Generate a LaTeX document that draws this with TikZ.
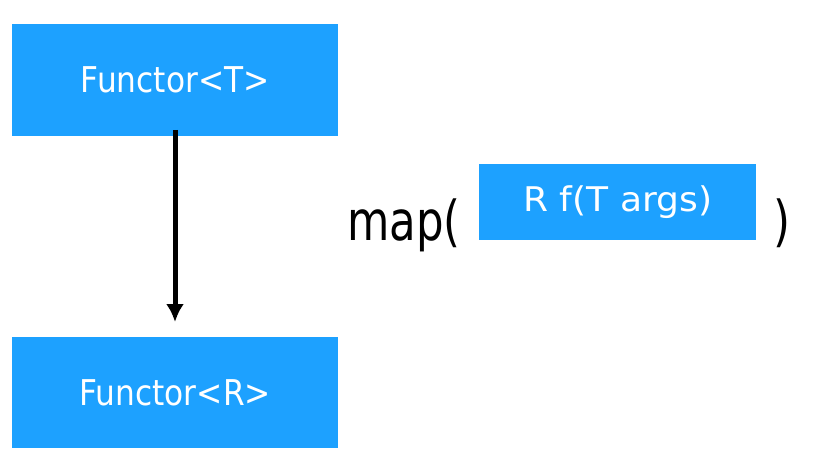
\documentclass[tikz,border=0pt]{standalone}
\usepackage{fontspec}
\setmainfont{DejaVu Sans}
\usetikzlibrary{arrows.meta}
\definecolor{boxblue}{HTML}{1DA1FF}
\begin{document}
\begin{tikzpicture}[x=1pt,y=-1pt,
  bluebox/.style={fill=boxblue,draw=none,text=white,inner sep=0pt,anchor=north west},
  bigtext/.style={font=\fontsize{35.5}{40}\selectfont},
  ftext/.style={font=\fontsize{34}{40}\selectfont},
  maptext/.style={font=\fontsize{55}{60}\selectfont,text=black,inner sep=0pt}]
\useasboundingbox (0,0) rectangle (816,468);
\node[bluebox,bigtext,minimum width=326pt,minimum height=112pt] (top) at (12,24) {\scalebox{0.88}[1]{Functor<T>}};
\node[bluebox,bigtext,minimum width=326pt,minimum height=111pt] (bot) at (12,337) {\scalebox{0.88}[1]{Functor<R>}};
\node[bluebox,ftext,minimum width=277pt,minimum height=76pt] (f) at (479,164) {\scalebox{1.06}[1]{R f(T args)}};
\node[maptext,anchor=base west] (map) at (347,240) {\scalebox{0.79}[1]{map(}};
\node[maptext,anchor=base west] (close) at (773,240) {\scalebox{0.79}[1]{)}};
\coordinate (a1) at (175,130);
\coordinate (a2) at (175,322);
\draw[line width=5pt,-{Latex[length=18pt,width=18pt]}] (a1) -- (a2);
\end{tikzpicture}
\end{document}
